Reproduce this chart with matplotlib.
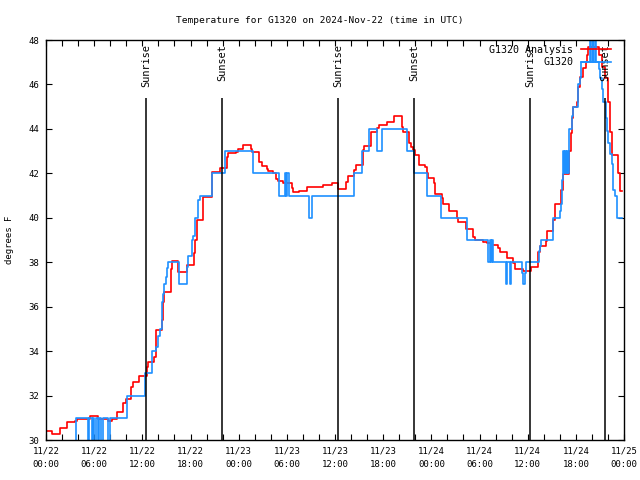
# Temperature for station G1320, 3 days, analysis vs observed (step plot, gnuplot look)
import pandas as pd
import matplotlib
matplotlib.use("Agg")
import matplotlib.pyplot as plt
import matplotlib.dates as mdates

START = pd.Timestamp("2024-11-22 00:00")

# hours since start, degrees F -- G1320 Analysis (red)
analysis_hours = [0.0, 0.75, 1.74, 2.62, 3.61, 3.86, 5.48, 6.48, 7.72, 8.22, 8.84, 9.59, 9.97,
                  10.59, 10.84, 11.58, 12.54, 12.71, 13.45, 13.66, 14.45, 14.61, 14.7, 15.57,
                  15.73, 16.4, 17.6, 18.47, 18.56, 18.77, 19.59, 20.64, 21.67, 22.51, 22.71,
                  23.63, 23.95, 24.58, 25.5, 25.7, 26.53, 26.87, 27.49, 27.69, 28.31, 28.65,
                  28.94, 29.56, 30.61, 30.73, 31.55, 32.47, 34.54, 35.59, 36.41, 37.33, 37.58,
                  38.37, 38.58, 39.52, 39.67, 40.45, 41.19, 41.52, 42.44, 43.35, 44.31, 44.51,
                  45.22, 45.43, 45.75, 45.96, 46.5, 47.21, 47.42, 47.62, 48.33, 48.46, 49.29,
                  49.49, 50.2, 51.23, 51.35, 52.32, 53.23, 53.44, 54.47, 54.9, 55.52, 56.34,
                  56.55, 57.39, 58.21, 58.42, 59.46, 60.41, 61.32, 61.54, 62.24, 62.37, 63.15,
                  63.4, 64.15, 64.44, 65.18, 65.36, 65.48, 65.68, 66.1, 66.31, 66.52, 66.93,
                  67.26, 67.35, 67.55, 68.88, 69.22, 69.63, 70.04, 70.25, 70.46, 71.25, 71.5,
                  71.75]
analysis_temp = [30.4, 30.27, 30.55, 30.8, 30.87, 30.95, 31.07, 30.95, 30.85, 30.95, 31.27, 31.65,
                 31.85, 32.4, 32.6, 32.9, 33.3, 33.52, 33.75, 34.95, 35.4, 36.2, 36.67, 37.7,
                 38.07, 37.55, 37.87, 38.4, 39.0, 39.9, 40.95, 42.05, 42.22, 42.75, 42.9, 42.97,
                 43.08, 43.26, 43.08, 42.95, 42.52, 42.33, 42.18, 42.12, 42.0, 41.73, 41.67,
                 41.55, 41.33, 41.17, 41.22, 41.37, 41.47, 41.58, 41.3, 41.6, 41.88, 42.15,
                 42.38, 43.05, 43.24, 43.87, 44.02, 44.17, 44.32, 44.6, 44.1, 43.87, 43.35,
                 43.2, 43.05, 42.83, 42.38, 42.3, 42.03, 41.78, 41.55, 41.07, 40.87, 40.62,
                 40.3, 40.0, 39.82, 39.48, 39.15, 39.0, 38.93, 38.85, 38.77, 38.62, 38.47,
                 38.17, 37.95, 37.68, 37.6, 37.8, 38.47, 38.73, 38.97, 39.4, 39.9, 40.62,
                 41.25, 41.97, 43.0, 43.8, 44.47, 45.0, 45.22, 45.9, 46.35, 46.72, 47.02,
                 47.32, 47.7, 47.32, 46.8, 46.28, 45.22, 43.87, 42.83, 42.0, 41.2, 41.2]

# hours since start, degrees F -- G1320 observed (blue)
obs_hours = [0.0, 3.74, 5.27, 5.39, 5.69, 5.85, 6.04, 6.23, 6.44, 6.64, 6.85, 7.06, 7.72, 7.97,
             10.03, 12.33, 13.2, 13.7, 13.99, 14.2, 14.41, 14.54, 14.7, 14.95, 15.11, 15.23,
             16.6, 17.53, 17.73, 18.15, 18.35, 18.56, 18.97, 19.18, 20.64, 22.3, 25.82, 29.06,
             29.77, 29.9, 30.08, 30.21, 32.76, 33.17, 38.37, 39.41, 40.27, 41.19, 41.82, 45.0,
             45.84, 47.42, 49.17, 52.4, 55.09, 55.3, 55.43, 55.55, 55.74, 57.3, 57.47, 57.8,
             57.98, 59.26, 59.46, 59.61, 59.8, 61.41, 61.54, 61.66, 63.19, 64.03, 64.15, 64.24,
             64.36, 64.46, 64.58, 64.71, 64.83, 64.96, 65.08, 65.18, 65.48, 65.68, 66.31, 66.52,
             66.65, 67.77, 67.89, 68.08, 68.2, 68.39, 68.51, 68.88, 69.01, 69.22, 69.42, 69.76,
             69.92, 70.04, 70.25, 70.46, 70.66, 70.88, 71.08, 71.16, 71.75]
obs_temp = [29.5, 31.0, 29.5, 31.0, 29.5, 31.0, 29.5, 31.0, 29.5, 31.0, 29.5, 31.0, 29.5, 31.0,
            32.0, 33.0, 34.0, 34.2, 34.7, 35.0, 36.2, 36.55, 37.0, 37.35, 37.73, 38.0,
            37.0, 37.8, 38.3, 39.0, 39.2, 40.0, 40.8, 41.0, 42.0, 43.0, 42.0, 41.0,
            42.0, 41.0, 42.0, 41.0, 40.0, 41.0, 42.0, 43.0, 44.0, 43.0, 44.0, 43.0,
            42.0, 41.0, 40.0, 39.0, 38.0, 39.0, 38.0, 39.0, 38.0, 37.0, 38.0, 37.0,
            38.0, 37.5, 37.0, 37.5, 38.0, 38.5, 38.75, 39.0, 40.0, 40.3, 40.6, 41.7,
            42.0, 43.0, 42.0, 43.0, 42.0, 43.0, 42.0, 44.0, 44.6, 45.0, 46.0, 46.3,
            47.0, 48.5, 47.0, 48.5, 47.0, 48.5, 47.0, 46.7, 46.3, 45.8, 45.2, 44.5,
            43.9, 43.35, 42.85, 42.4, 41.25, 41.0, 40.35, 40.0, 40.0]

# sun events, hours since start
sun_hours = [12.45, 21.93, 36.4, 45.85, 60.3, 69.65]
sun_labels = ["Sunrise", "Sunset", "Sunrise", "Sunset", "Sunrise", "Sunset"]


def to_time(hours):
    return START + pd.to_timedelta(hours, unit="h")


plt.rcParams["font.family"] = "DejaVu Sans Mono"
plt.rcParams["font.size"] = 6.5

fig = plt.figure(figsize=(6.4, 4.8), dpi=100)
ax = fig.add_axes([46 / 640, 40 / 480, 578 / 640, 400 / 480])

ax.plot(to_time(analysis_hours), analysis_temp, drawstyle="steps-post",
        color="#ff0000", lw=1.2, label="G1320 Analysis")
ax.plot(to_time(obs_hours), obs_temp, drawstyle="steps-post",
        color="#1e90ff", lw=1.2, label="G1320")

for h, lab in zip(sun_hours, sun_labels):
    t = to_time(h)
    ax.vlines(t, 30, 45.4, color="black", lw=1.1)
    ax.text(t, 47.8, lab, rotation=90, ha="center", va="top", fontsize=7.4)

ax.set_xlim(START, to_time(72))
ax.set_ylim(30, 48)
ax.set_yticks(range(30, 49, 2))

ax.xaxis.set_major_locator(mdates.HourLocator(byhour=[0, 6, 12, 18]))
ax.xaxis.set_major_formatter(mdates.DateFormatter("%m/%d\n%H:%M"))
ax.xaxis.set_minor_locator(mdates.HourLocator(interval=2))
ax.tick_params(which="both", direction="in", top=True, right=True, length=4.5, width=0.8)
ax.tick_params(axis="x", pad=5)
ax.tick_params(axis="y", pad=5)
plt.setp(ax.get_xticklabels(), linespacing=1.55)
for s in ax.spines.values():
    s.set_linewidth(1.0)

ax.set_ylabel("degrees F", labelpad=10)
# title is centred on the figure, not on the axes
ax.set_title("Temperature for G1320 on 2024-Nov-22 (time in UTC)", pad=12, fontsize=6.8,
             x=(320 - 46) / 578)

ax.legend(loc="upper right", bbox_to_anchor=(1.0, 1.02), frameon=False, markerfirst=False,
          handlelength=3.0, borderaxespad=0.9, labelspacing=0.25, handletextpad=0.8,
          fontsize=7.2)

fig.savefig("out.png", dpi=100)
